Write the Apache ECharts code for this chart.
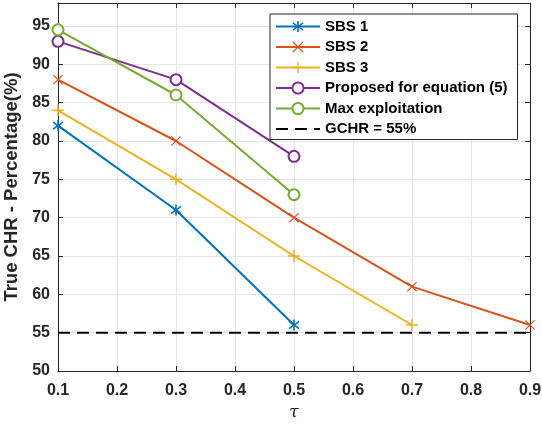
<!DOCTYPE html>
<html>
<head>
<meta charset="utf-8">
<script src="https://cdn.jsdelivr.net/npm/echarts@6/dist/echarts.min.js"></script>
<style>
  html, body { margin: 0; padding: 0; background: #fff; }
  #chart { width: 542px; height: 427px; }
</style>
</head>
<body>
<div id="chart"></div>
<script>
// data
var tauSBS1 = [0.1, 0.3, 0.5];
var chrSBS1 = [82, 71, 56];
var tauSBS2 = [0.1, 0.3, 0.5, 0.7, 0.9];
var chrSBS2 = [88, 80, 70, 61, 56];
var tauSBS3 = [0.1, 0.3, 0.5, 0.7];
var chrSBS3 = [84, 75, 65, 56];
var tauProposed = [0.1, 0.3, 0.5];
var chrProposed = [93, 88, 78];
var tauMaxExp = [0.1, 0.3, 0.5];
var chrMaxExp = [94.5, 86, 73];
var gchr = 55;
var xRange = [0.1, 0.9];

function pairs(xs, ys) {
  return xs.map(function (x, i) { return [x, ys[i]]; });
}

// marker shapes (filled paths, thin bars)
var symPlus = 'path://M4.4,0 L5.6,0 L5.6,4.4 L10,4.4 L10,5.6 L5.6,5.6 L5.6,10 L4.4,10 L4.4,5.6 L0,5.6 L0,4.4 L4.4,4.4 Z';
var symCross = 'path://M0.8,0 L5,4.2 L9.2,0 L10,0.8 L5.8,5 L10,9.2 L9.2,10 L5,5.8 L0.8,10 L0,9.2 L4.2,5 L0,0.8 Z';
var symStar = 'path://M4.3,0 L5.7,0 L5.7,3.8 L8.9,1.1 L9.8,2.2 L6.4,5 L9.8,7.8 L8.9,8.9 L5.7,6.2 L5.7,10 L4.3,10 L4.3,6.2 L1.1,8.9 L0.2,7.8 L3.6,5 L0.2,2.2 L1.1,1.1 L4.3,3.8 Z';

var chart = echarts.init(document.getElementById('chart'));

function lineSeries(name, data, color, symbol, size) {
  return {
    name: name,
    type: 'line',
    data: data,
    symbol: symbol,
    symbolSize: size,
    showAllSymbol: true,
    lineStyle: { color: color, width: 2 },
    itemStyle: { color: color, borderColor: color, borderWidth: symbol === 'emptyCircle' ? 1.6 : 0 },
    emphasis: { disabled: true },
    animation: false
  };
}

var tickFont = { fontFamily: 'Liberation Sans, Arial', fontWeight: 'bold', fontSize: 16, color: '#262626' };

chart.setOption({
  backgroundColor: '#fff',
  grid: { left: 58, right: 12, top: 3, bottom: 56, show: false, outerBoundsMode: 'none', containLabel: false },
  legend: {
    left: 270, top: 14,
    orient: 'vertical',
    backgroundColor: '#fff',
    borderColor: '#262626',
    borderWidth: 1,
    borderRadius: 0,
    padding: [5, 10, 3, 5],
    itemWidth: 44,
    itemHeight: 14,
    itemGap: 5.5,
    textStyle: { fontFamily: 'Liberation Sans, Arial', fontWeight: 'bold', fontSize: 15, lineHeight: 14, color: '#000' },
    data: ['SBS 1', 'SBS 2', 'SBS 3', 'Proposed for equation (5)', 'Max exploitation',
      { name: 'GCHR = 55%', itemStyle: { opacity: 0 } }]
  },
  xAxis: [{
    type: 'value', min: xRange[0], max: xRange[1], interval: 0.1,
    name: 'τ', nameLocation: 'middle', nameGap: 33,
    nameTextStyle: { fontFamily: 'DejaVu Serif, Liberation Serif', fontStyle: 'italic', fontSize: 17, color: '#262626' },
    axisLine: { lineStyle: { color: '#262626', width: 1 } },
    axisTick: { inside: true, length: 5, lineStyle: { color: '#262626' } },
    axisLabel: Object.assign({ margin: 12, formatter: function (v) { return v.toFixed(1); } }, tickFont),
    splitLine: { show: true, lineStyle: { color: '#e6e6e6', width: 1 } }
  }, {
    type: 'value', position: 'top', min: xRange[0], max: xRange[1], interval: 0.1,
    axisLine: { show: true, onZero: false, lineStyle: { color: '#262626', width: 1 } },
    axisTick: { inside: true, length: 5, lineStyle: { color: '#262626' } },
    axisLabel: { show: false },
    splitLine: { show: false }
  }],
  yAxis: [{
    type: 'value', min: 50, max: 98, interval: 5,
    name: 'True CHR - Percentage(%)', nameLocation: 'middle', nameGap: 33,
    nameTextStyle: { fontFamily: 'Liberation Sans, Arial', fontWeight: 'bold', fontSize: 18.5, color: '#262626' },
    axisLine: { show: true, lineStyle: { color: '#262626', width: 1 } },
    axisTick: { show: true, inside: true, length: 5, lineStyle: { color: '#262626' } },
    axisLabel: Object.assign({ margin: 8, showMaxLabel: false }, tickFont),
    splitLine: { show: true, lineStyle: { color: '#e6e6e6', width: 1 } }
  }, {
    type: 'value', position: 'right', min: 50, max: 98, interval: 5,
    axisLine: { show: true, onZero: false, lineStyle: { color: '#262626', width: 1 } },
    axisTick: { show: true, inside: true, length: 5, lineStyle: { color: '#262626' } },
    axisLabel: { show: false },
    splitLine: { show: false }
  }],
  series: [
    lineSeries('SBS 1', pairs(tauSBS1, chrSBS1), '#0072BD', symStar, 11),
    lineSeries('SBS 2', pairs(tauSBS2, chrSBS2), '#D95319', symCross, 10),
    lineSeries('SBS 3', pairs(tauSBS3, chrSBS3), '#EDB120', symPlus, 12),
    lineSeries('Proposed for equation (5)', pairs(tauProposed, chrProposed), '#7E2F8E', 'emptyCircle', 11),
    lineSeries('Max exploitation', pairs(tauMaxExp, chrMaxExp), '#77AC30', 'emptyCircle', 11),
    {
      name: 'GCHR = 55%', type: 'line',
      data: [[xRange[0], gchr], [xRange[1], gchr]],
      symbol: 'none',
      lineStyle: { color: '#000', width: 2, type: [12, 7] },
      itemStyle: { color: '#000' },
      emphasis: { disabled: true },
      animation: false
    }
  ]
});
</script>
</body>
</html>
